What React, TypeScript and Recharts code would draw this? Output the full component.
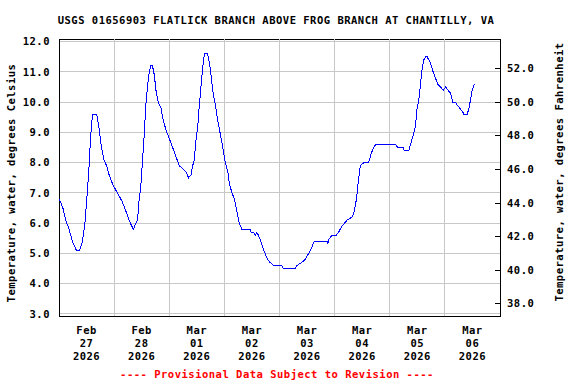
import React from 'react';
import { LineChart, Line, XAxis, YAxis, CartesianGrid, ReferenceLine, ReferenceArea } from 'recharts';

// hours since Feb 27 2026 00:00 and water temperature (deg C)
const hours = [
  0, 0.7, 1.7, 2.9, 4.4, 5.8, 7.0, 7.6, 9.0, 10.2, 11.3, 12.4, 13.1, 13.8, 14.6, 16.4, 17.5, 18.5, 19.6, 20.7,
  21.8, 23.3, 24.7, 26.2, 27.6, 29.1, 30.5, 31.7, 32.4, 33.5, 34.2, 34.9, 35.6, 36.4, 37.1, 37.8, 38.5, 39.3, 40.0, 40.7,
  41.5, 42.2, 43.2, 44.4, 45.4, 46.5, 48.0, 49.5, 50.9, 52.4, 53.8, 55.3, 56.4, 57.5, 58.2, 58.9, 59.6, 60.4, 61.1, 61.8,
  62.5, 63.3, 64.7, 65.5, 66.2, 66.9, 68.1, 69.1, 70.1, 71.3, 72.4, 73.5, 74.2, 75.3, 76.4, 77.4, 78.5, 79.6, 83.2, 83.6,
  84.7, 85.4, 86.1, 86.8, 87.6, 88.7, 89.7, 90.8, 91.9, 93.4, 97.0, 97.7, 102.8, 103.6, 105.7, 107.2, 108.7, 110.1, 111.1, 116.7,
  117.0, 117.4, 118.8, 120.7, 121.7, 123.2, 125.4, 127.6, 128.6, 129.5, 130.2, 131.2, 132.7, 134.8, 135.9, 137.0, 137.9, 146.5, 147.5, 149.8,
  150.4, 152.3, 153.0, 154.2, 155.2, 155.9, 156.7, 157.4, 158.1, 158.8, 159.6, 160.3, 161.0, 161.7, 162.9, 163.9, 164.9, 166.1, 167.3, 168.3,
  169.3, 170.5, 171.5, 172.7, 173.4, 174.5, 175.6, 176.3, 177.7, 178.5, 179.2, 179.9, 180.9,
];
const tempC = [
  6.8, 6.7, 6.5, 6.1, 5.8, 5.4, 5.2, 5.1, 5.1, 5.4, 6.0, 7.1, 7.9, 8.9, 9.6, 9.6, 9.1, 8.5, 8.1, 7.9,
  7.6, 7.3, 7.1, 6.9, 6.7, 6.4, 6.1, 5.9, 5.8, 6.0, 6.1, 6.8, 7.2, 8.1, 8.9, 9.9, 10.5, 11.0, 11.2, 11.2,
  10.9, 10.4, 10.0, 9.8, 9.4, 9.1, 8.8, 8.5, 8.2, 7.9, 7.8, 7.7, 7.5, 7.6, 7.9, 8.1, 8.7, 9.2, 9.9, 10.5,
  11.1, 11.6, 11.6, 11.3, 10.9, 10.4, 9.9, 9.4, 9.0, 8.5, 8.0, 7.7, 7.3, 7.0, 6.8, 6.4, 6.0, 5.8, 5.8, 5.7,
  5.7, 5.6, 5.7, 5.6, 5.45, 5.2, 5.0, 4.8, 4.7, 4.6, 4.6, 4.5, 4.5, 4.6, 4.7, 4.8, 5.0, 5.2, 5.4, 5.4,
  5.3, 5.45, 5.6, 5.6, 5.7, 5.9, 6.1, 6.2, 6.4, 6.8, 7.3, 7.9, 8.0, 8.0, 8.3, 8.5, 8.6, 8.6, 8.5, 8.5,
  8.4, 8.4, 8.6, 8.9, 9.2, 9.8, 10.1, 10.6, 11.1, 11.4, 11.5, 11.5, 11.4, 11.3, 11.0, 10.8, 10.6, 10.5, 10.4, 10.5,
  10.4, 10.3, 10.0, 10.0, 9.9, 9.8, 9.7, 9.6, 9.6, 9.8, 10.1, 10.4, 10.6,
];

const dayTicks = [12, 36, 60, 84, 108, 132, 156, 180];
const midnights = [24, 48, 72, 96, 120, 144, 168];
const months = ['Feb', 'Feb', 'Mar', 'Mar', 'Mar', 'Mar', 'Mar', 'Mar'];
const days = ['27', '28', '01', '02', '03', '04', '05', '06'];
const years = ['2026', '2026', '2026', '2026', '2026', '2026', '2026', '2026'];
const celsiusTicks = [3, 4, 5, 6, 7, 8, 9, 10, 11, 12];
const fahrenheitTicks = [38, 40, 42, 44, 46, 48, 50, 52];

const cDomain = [2.93, 12.09];
const fDomain = [cDomain[0] * 1.8 + 32, cDomain[1] * 1.8 + 32];

const data = hours.map((h, i) => ({ hour: h, c: tempC[i], f: tempC[i] * 1.8 + 32 }));

const font = {
  fontFamily: '"DejaVu Sans Mono", monospace',
  fontWeight: 'bold' as const,
  fontSize: 10.5,
  letterSpacing: 0.5,
  fill: '#000',
};

const DateTick = (props: any) => {
  const { x, y, index } = props;
  return (
    <g>
      <text x={x} y={y + 17.5} textAnchor="middle" {...font}>{months[index]}</text>
      <text x={x} y={y + 31} textAnchor="middle" {...font}>{days[index]}</text>
      <text x={x} y={y + 44} textAnchor="middle" {...font}>{years[index]}</text>
    </g>
  );
};

const RightTick = (props: any) => {
  const { x, y, payload } = props;
  return (
    <g>
      <line x1={x - 12} x2={x - 7} y1={y} y2={y} stroke="#000" />
      <text x={x} y={y} dy="0.35em" textAnchor="start" {...font}>{Number(payload.value).toFixed(1)}</text>
    </g>
  );
};

export default function App() {
  return (
    <div style={{ position: 'absolute', left: 0, top: 0, width: 576, height: 384, background: '#fff' }}>
      <style>{'.recharts-surface line, .recharts-surface path, .recharts-surface rect { shape-rendering: crispEdges; }'}</style>
      <LineChart width={576} height={384} data={data} margin={{ top: 39, right: 0, bottom: 0, left: 8 }}>
        <CartesianGrid vertical={false} yAxisId="left" stroke="#c8c8c8" />
        {midnights.map((m) => (
          <ReferenceLine key={m} x={m} yAxisId="left" stroke="#c8c8c8" />
        ))}
        <XAxis
          dataKey="hour"
          type="number"
          domain={[0, 192]}
          ticks={dayTicks}
          height={68}
          axisLine={false}
          tickLine={false}
          tickSize={0}
          tickMargin={0}
          tick={<DateTick />}
          interval={0}
        />
        <YAxis
          yAxisId="left"
          type="number"
          domain={cDomain}
          ticks={celsiusTicks}
          allowDataOverflow
          width={51}
          axisLine={false}
          tickLine={false}
          tickSize={0}
          tickMargin={9}
          tick={font}
          tickFormatter={(v: number) => v.toFixed(1)}
        />
        <YAxis
          yAxisId="right"
          orientation="right"
          type="number"
          domain={fDomain}
          ticks={fahrenheitTicks}
          allowDataOverflow
          width={76}
          axisLine={false}
          tickLine={false}
          tickSize={0}
          tickMargin={7}
          tick={<RightTick />}
        />
        <Line yAxisId="right" dataKey="f" stroke="none" dot={false} activeDot={false} isAnimationActive={false} />
        <Line
          yAxisId="left"
          type="linear"
          dataKey="c"
          stroke="#0000ff"
          strokeWidth={1}
          dot={false}
          activeDot={false}
          isAnimationActive={false}
        />
        <ReferenceArea
          yAxisId="left"
          x1={0}
          x2={192}
          y1={cDomain[0]}
          y2={cDomain[1]}
          fill="none"
          stroke="#000"
          strokeWidth={1}
          ifOverflow="visible"
        />
      </LineChart>
      <svg width={576} height={384} style={{ position: 'absolute', left: 0, top: 0, pointerEvents: 'none' }}>
        <text x={276} y={24} textAnchor="middle" {...font}>
          USGS 01656903 FLATLICK BRANCH ABOVE FROG BRANCH AT CHANTILLY, VA
        </text>
        <text transform="translate(11,183) rotate(-90)" dy="0.35em" textAnchor="middle" {...font}>
          Temperature, water, degrees Celsius
        </text>
        <text transform="translate(559,172) rotate(-90)" dy="0.35em" textAnchor="middle" {...font}>
          Temperature, water, degrees Fahrenheit
        </text>
        <text x={277} y={378} textAnchor="middle" {...font} fill="#ff0000">
          ---- Provisional Data Subject to Revision ----
        </text>
      </svg>
    </div>
  );
}
